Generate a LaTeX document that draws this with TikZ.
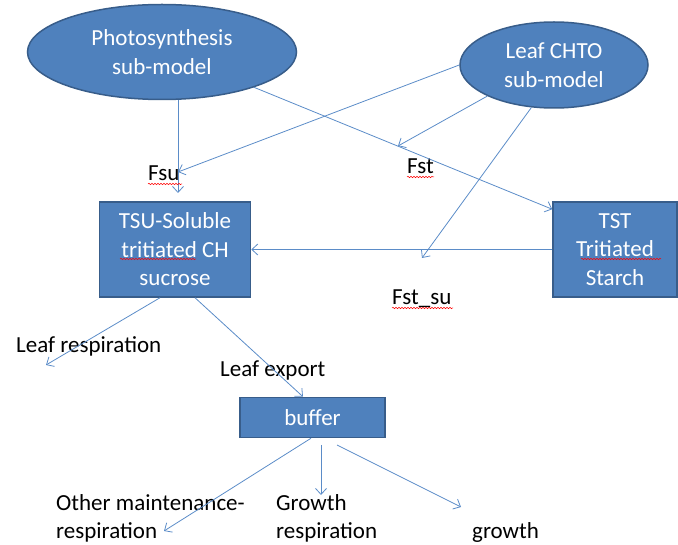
\documentclass[tikz,border=0pt]{standalone}
\usepackage{fontspec}
\setmainfont{Carlito}
\usetikzlibrary{arrows.meta,shapes.geometric,decorations.pathmorphing}
\definecolor{fillblue}{RGB}{79,129,189}
\definecolor{edgeblue}{RGB}{56,93,138}
\definecolor{arrowblue}{RGB}{91,140,200}
\begin{document}
\begin{tikzpicture}[x=1pt,y=-1pt,
  every node/.style={font=\fontsize{23}{28.5}\selectfont},
  blob/.style={ellipse, fill=fillblue, draw=edgeblue, line width=1.5pt, text=white, align=center, inner sep=0pt},
  tank/.style={rectangle, fill=fillblue, draw=edgeblue, line width=1.5pt, text=white, align=center, inner sep=0pt},
  lbl/.style={anchor=base west, inner sep=0pt, text=black},
  flow/.style={draw=arrowblue, line width=0.8pt, -{Straight Barb[length=6pt,width=11pt]}},
  spell/.style={draw=red, line width=0.5pt, decorate, decoration={snake, segment length=3pt, amplitude=0.7pt}}
]
\useasboundingbox (0,0) rectangle (678,545);

% main shapes
\node[blob, minimum width=269pt, minimum height=95pt] (ph) at (162,52) {Photosynthesis\\sub-model};
\node[blob, minimum width=188pt, minimum height=86pt] (ch) at (554,65) {Leaf CHTO\\sub-model};
\node[tank, minimum width=151pt, minimum height=95pt] (tsu) at (175,249.5) {TSU-Soluble\\tritiated CH\\sucrose};
\node[tank, minimum width=124pt, minimum height=95pt] (tst) at (615,249.5) {TST\\Tritiated\\Starch};
\node[tank, minimum width=145pt, minimum height=40pt] (buf) at (312.5,417.5) {buffer};

% labels
\node[lbl] (fsu) at (148,181) {Fsu};
\node[lbl] (fst) at (407,174) {Fst};
\node[lbl] (fstsu) at (392,305) {Fst\_su};
\node[lbl] (lresp) at (16,353) {Leaf respiration};
\node[lbl] (lexp) at (220,377) {Leaf export};
\node[lbl] (omr1) at (56,511) {Other maintenance-};
\node[lbl] (omr2) at (56,538) {respiration};
\node[lbl] (gr1) at (276,511) {Growth};
\node[lbl] (gr2) at (276,538) {respiration};
\node[lbl] (grw) at (472,538.5) {growth};

% free ends
\coordinate (p1) at (178,193);
\coordinate (p2) at (178,172);
\coordinate (p4) at (398,146);
\coordinate (p5) at (422,258);
\coordinate (p7) at (46,365);
\coordinate (p9) at (164,531);
\coordinate (p10s) at (321,445);
\coordinate (p10) at (321,495);
\coordinate (p11s) at (337,445);
\coordinate (p11) at (461,507);

% connectors
\draw[flow] (ph.south -| p1) -- (p1);
\draw[flow] (ch.west) -- (p2);
\draw[flow] (ph.-21) -- ([yshift=-8pt]tst.north west);
\draw[flow] (ch.205) -- (p4);
\draw[flow] (ch.242) -- (p5);
\draw[flow] (tst.west) -- (tsu.east);
\draw[flow] ([xshift=-15pt]tsu.south) -- (p7);
\draw[flow] ([xshift=20pt]tsu.south) -- ([xshift=-9.5pt]buf.north);
\draw[flow] ([xshift=-1.5pt]buf.south) -- (p9);
\draw[flow] (p10s) -- (p10);
\draw[flow] (p11s) -- (p11);

% spell-check marks
\draw[spell] (148,184) -- (182,184);
\draw[spell] (407,177) -- (434,177);
\draw[spell] (392,308) -- (453,308);
\draw[spell] (120,259) -- (196,259);
\draw[spell] (581,259) -- (661,259);
\end{tikzpicture}
\end{document}
